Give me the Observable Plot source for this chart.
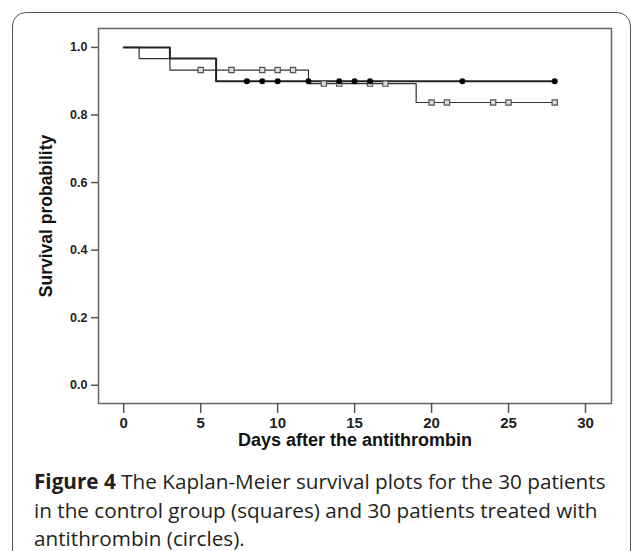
<!DOCTYPE html>
<html>
<head>
<meta charset="utf-8">
<script src="https://cdn.jsdelivr.net/npm/d3@7"></script>
<script src="https://cdn.jsdelivr.net/npm/@observablehq/plot@0.6"></script>
<style>
  html, body { margin: 0; padding: 0; background: #fff; }
  body { width: 633px; height: 551px; position: relative; overflow: hidden; }
  #box { position: absolute; left: 12px; top: 12px; width: 617px; height: 600px;
         border: 1.5px solid #555; border-radius: 14px; }
  #chart { position: absolute; left: 0; top: 0; }
  #chart g[aria-label="x-axis tick label"] { font-size: 15px; font-weight: bold; }
  #chart g[aria-label="y-axis tick label"] { font-size: 12.5px; font-weight: bold; }
  #caption { position: absolute; left: 34px; top: 467px; width: 575px;
             font-family: "Open Sans", sans-serif; font-size: 20.7px; line-height: 28.5px; color: #231f20; }
</style>
</head>
<body>
<div id="box"></div>
<div id="chart"></div>
<div id="caption"><b>Figure 4</b> The Kaplan-Meier survival plots for the 30 patients in the control group (squares) and 30 patients treated with antithrombin (circles).</div>
<script>
// Control group (squares): event times and survival after each step
const controlTimes = [0, 1, 3, 12, 19, 28];
const controlSurv  = [1.0, 0.967, 0.933, 0.893, 0.837, 0.837];
const controlCensored = [5, 7, 9, 10, 11, 13, 14, 16, 17, 20, 21, 24, 25, 28];

// Antithrombin group (circles)
const atTimes = [0, 3, 6, 28];
const atSurv  = [1.0, 0.967, 0.9, 0.9];
const atCensored = [8, 9, 10, 12, 14, 15, 16, 22, 28];

const xTicks = [0, 5, 10, 15, 20, 25, 30];
const yTicks = [0.0, 0.2, 0.4, 0.6, 0.8, 1.0];

function stepAt(times, surv, t) {
  let v = surv[0];
  for (let i = 0; i < times.length; i++) if (times[i] <= t) v = surv[i];
  return v;
}
const control = controlTimes.map((t, i) => ({t, s: controlSurv[i]}));
const anti = atTimes.map((t, i) => ({t, s: atSurv[i]}));
const controlC = controlCensored.map(t => ({t, s: stepAt(controlTimes, controlSurv, t)}));
const antiC = atCensored.map(t => ({t, s: stepAt(atTimes, atSurv, t)}));

const font = "'Liberation Sans', Arial, Helvetica, sans-serif";
const chart = Plot.plot({
  width: 633,
  height: 460,
  marginLeft: 98,
  marginRight: 22,
  marginTop: 28,
  marginBottom: 57,
  style: { fontFamily: font, color: "#222", background: "transparent" },
  x: { domain: [-1.64, 31.69] },
  y: { domain: [-0.054, 1.056] },
  marks: [
    Plot.frame({ stroke: "#666", strokeWidth: 1.5 }),
    Plot.axisX({ ticks: xTicks, tickSize: 10, tickPadding: 4, fontSize: 15, fontWeight: "bold",
                 label: null, stroke: "#555", strokeWidth: 1.5 }),
    Plot.axisY({ ticks: yTicks, tickFormat: d3.format(".1f"), tickSize: 7, tickPadding: 4,
                 fontSize: 12.5, fontWeight: "bold", label: null, stroke: "#555", strokeWidth: 1.5 }),
    Plot.text(["Days after the antithrombin"], { frameAnchor: "bottom", dy: 30, text: d => d,
                 textAnchor: "middle", lineAnchor: "top", fontSize: 18, fontWeight: "bold", fill: "#111" }),
    Plot.text(["Survival probability"], { frameAnchor: "left", dx: -52, rotate: -90, text: d => d,
                 textAnchor: "middle", fontSize: 17.5, fontWeight: "bold", fill: "#111" }),
    Plot.line(control, { x: "t", y: "s", curve: "step-after", stroke: "#333", strokeWidth: 1.2 }),
    Plot.line(anti, { x: "t", y: "s", curve: "step-after", stroke: "#222", strokeWidth: 2 }),
    Plot.dot(controlC, { x: "t", y: "s", symbol: "square", r: 3, stroke: "#555", strokeWidth: 1.2, fill: "#ddd" }),
    Plot.dot(antiC, { x: "t", y: "s", symbol: "circle", r: 3, fill: "#000", stroke: "none" })
  ]
});
document.getElementById("chart").appendChild(chart);
</script>
</body>
</html>
